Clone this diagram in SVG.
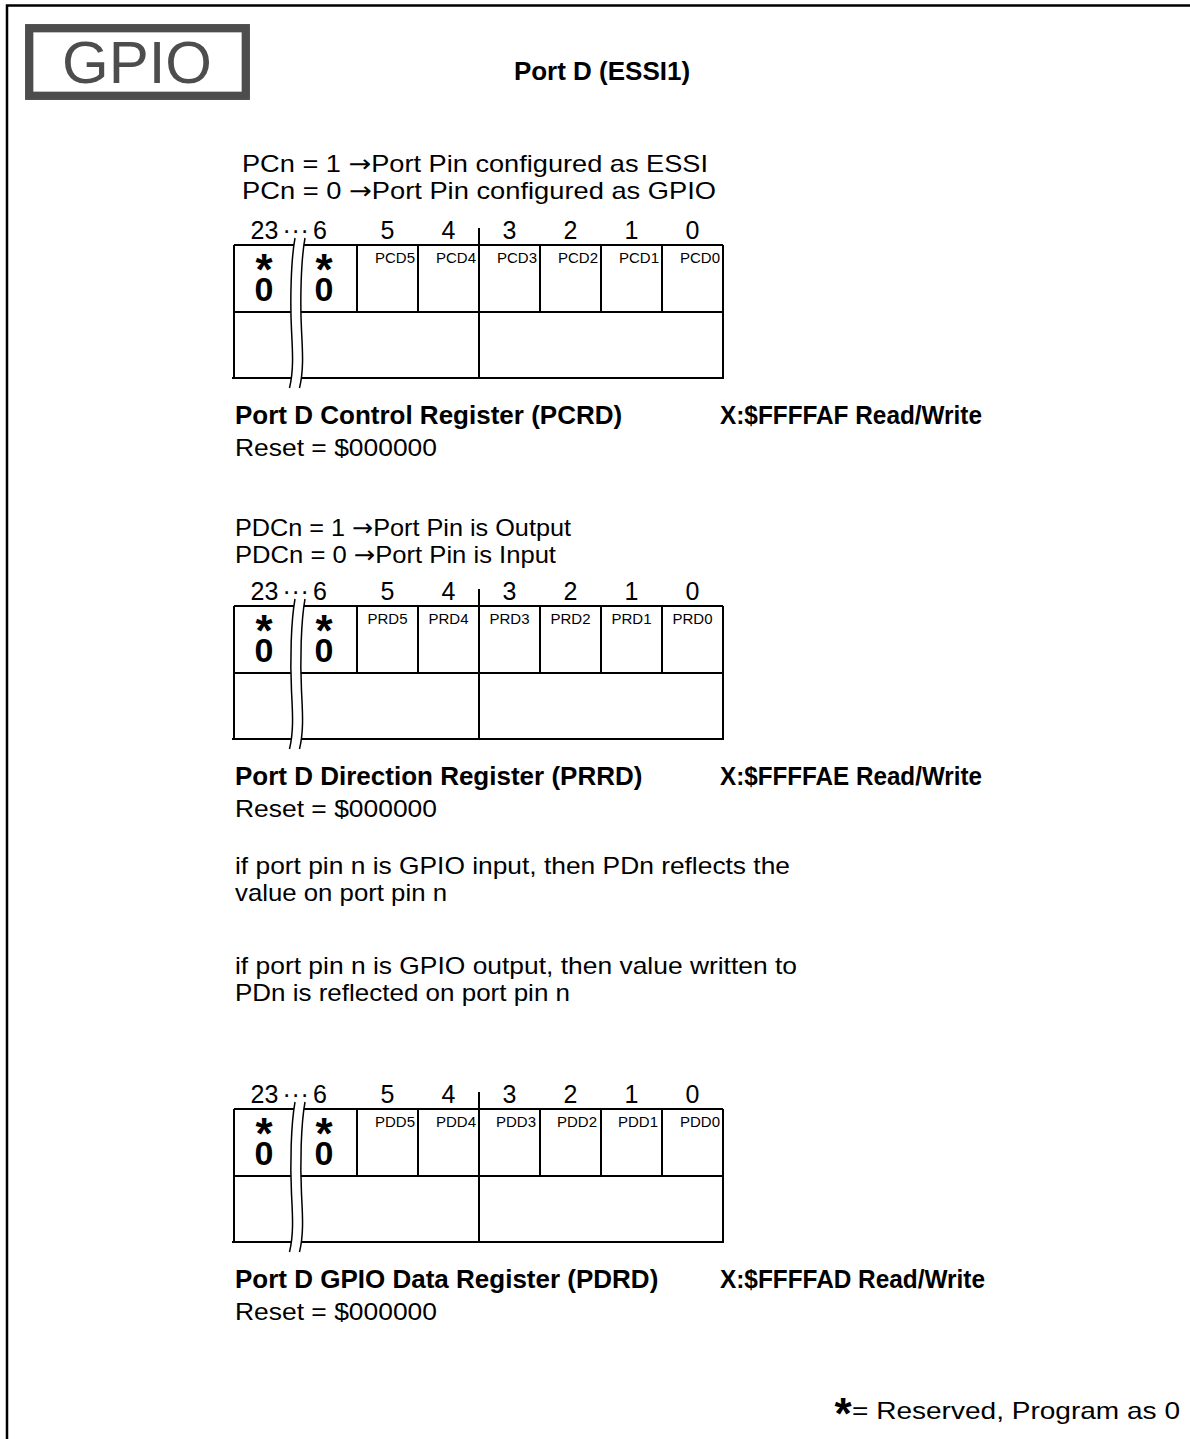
<svg xmlns="http://www.w3.org/2000/svg" width="1190" height="1439" viewBox="0 0 1190 1439">
<style>
.t{font-family:"Liberation Sans",Arial,Helvetica,sans-serif;font-size:24px;fill:#000}
.b{font-weight:bold;font-size:26px}
.ar{font-family:"DejaVu Sans","Liberation Sans",sans-serif}
.dg{font-family:"Liberation Sans",Arial,Helvetica,sans-serif;font-size:25px;fill:#000;text-anchor:middle}
.lbl{font-family:"Liberation Sans",Arial,Helvetica,sans-serif;font-size:15px;fill:#000}
.re{text-anchor:end}
.mid{text-anchor:middle}
.zero{font-family:"Liberation Sans",Arial,Helvetica,sans-serif;font-size:34px;font-weight:bold;fill:#000;text-anchor:middle}
.star{font-family:"Liberation Sans",Arial,Helvetica,sans-serif;font-size:44px;font-weight:bold;fill:#000;text-anchor:middle}
.ln{fill:none;stroke:#000;stroke-width:2}
.brk{fill:none;stroke:#000;stroke-width:1.5}
</style>
<defs>
<g id="regbase">
<path class="ln" d="M234,245H723M234,312H723M232,378H724M234,245V378M723,245V378M357,245V312M418,245V312M540,245V312M601,245V312M662,245V312M479,228V378"/>
<path d="M295,238C291,260 290,300 291.5,330C292.5,350 294,370 289.5,388L299.5,388C304,370 302.5,350 301.5,330C300,300 301,260 305,238Z" fill="#fff"/>
<path class="brk" d="M295,238C291,260 290,300 291.5,330C292.5,350 294,370 289.5,388M305,238C301,260 300,300 301.5,330C302.5,350 304,370 299.5,388"/>
<text class="dg" x="264.5" y="239">23</text>
<text class="dg" x="282.5 291.5 300.5" y="239" style="text-anchor:start">···</text>
<text class="dg" x="320" y="239">6</text>
<text class="dg" x="387.5" y="239">5</text>
<text class="dg" x="448.5" y="239">4</text>
<text class="dg" x="509.5" y="239">3</text>
<text class="dg" x="570.5" y="239">2</text>
<text class="dg" x="631.5" y="239">1</text>
<text class="dg" x="692.5" y="239">0</text>
<text class="star" x="264" y="285">*</text>
<text class="star" x="324" y="285">*</text>
<text class="zero" x="264" y="301">0</text>
<text class="zero" x="324" y="301">0</text>
</g>
</defs>

<g id="frame">
<path d="M7,1439V5.5H1190" fill="none" stroke="#000" stroke-width="2.5"/>
</g>

<g id="gpio-badge">
<rect x="29.2" y="28.2" width="216.6" height="67.6" fill="none" stroke="#4d4d4d" stroke-width="8.3"/>
<text x="62" y="83" style="font-family:'Liberation Sans',Arial,sans-serif;font-size:60px;fill:#4d4d4d">GPIO</text>
</g>

<g id="title">
<text class="t b mid" x="602" y="80">Port D (ESSI1)</text>
</g>

<g id="pcrd">
<text class="t" x="242" y="172" textLength="466" lengthAdjust="spacingAndGlyphs">PCn = 1 <tspan class="ar">→</tspan>Port Pin configured as ESSI</text>
<text class="t" x="242" y="199" textLength="474" lengthAdjust="spacingAndGlyphs">PCn = 0 <tspan class="ar">→</tspan>Port Pin configured as GPIO</text>
<use href="#regbase"/>
<text class="lbl re" x="415" y="263">PCD5</text>
<text class="lbl re" x="476" y="263">PCD4</text>
<text class="lbl re" x="537" y="263">PCD3</text>
<text class="lbl re" x="598" y="263">PCD2</text>
<text class="lbl re" x="659" y="263">PCD1</text>
<text class="lbl re" x="720" y="263">PCD0</text>
<text class="t b" x="235" y="424">Port D Control Register (PCRD)</text>
<text class="t b" x="720" y="424" textLength="262" lengthAdjust="spacingAndGlyphs">X:$FFFFAF Read/Write</text>
<text class="t" x="235" y="456" textLength="202" lengthAdjust="spacingAndGlyphs">Reset = $000000</text>
</g>

<g id="prrd">
<text class="t" x="235" y="536" textLength="336" lengthAdjust="spacingAndGlyphs">PDCn = 1 <tspan class="ar">→</tspan>Port Pin is Output</text>
<text class="t" x="235" y="563" textLength="321" lengthAdjust="spacingAndGlyphs">PDCn = 0 <tspan class="ar">→</tspan>Port Pin is Input</text>
<use href="#regbase" transform="translate(0,361)"/>
<text class="lbl mid" x="387.5" y="624">PRD5</text>
<text class="lbl mid" x="448.5" y="624">PRD4</text>
<text class="lbl mid" x="509.5" y="624">PRD3</text>
<text class="lbl mid" x="570.5" y="624">PRD2</text>
<text class="lbl mid" x="631.5" y="624">PRD1</text>
<text class="lbl mid" x="692.5" y="624">PRD0</text>
<text class="t b" x="235" y="785">Port D Direction Register (PRRD)</text>
<text class="t b" x="720" y="785" textLength="262" lengthAdjust="spacingAndGlyphs">X:$FFFFAE Read/Write</text>
<text class="t" x="235" y="817" textLength="202" lengthAdjust="spacingAndGlyphs">Reset = $000000</text>
</g>

<g id="pdrd-notes">
<text class="t" x="235" y="874" textLength="555" lengthAdjust="spacingAndGlyphs">if port pin n is GPIO input, then PDn reflects the</text>
<text class="t" x="235" y="901" textLength="212" lengthAdjust="spacingAndGlyphs">value on port pin n</text>
<text class="t" x="235" y="974" textLength="562" lengthAdjust="spacingAndGlyphs">if port pin n is GPIO output, then value written to</text>
<text class="t" x="235" y="1001" textLength="335" lengthAdjust="spacingAndGlyphs">PDn is reflected on port pin n</text>
</g>

<g id="pdrd">
<use href="#regbase" transform="translate(0,864)"/>
<text class="lbl re" x="415" y="1127">PDD5</text>
<text class="lbl re" x="476" y="1127">PDD4</text>
<text class="lbl re" x="536" y="1127">PDD3</text>
<text class="lbl re" x="597" y="1127">PDD2</text>
<text class="lbl re" x="658" y="1127">PDD1</text>
<text class="lbl re" x="720" y="1127">PDD0</text>
<text class="t b" x="235" y="1288">Port D GPIO Data Register (PDRD)</text>
<text class="t b" x="720" y="1288" textLength="265" lengthAdjust="spacingAndGlyphs">X:$FFFFAD Read/Write</text>
<text class="t" x="235" y="1320" textLength="202" lengthAdjust="spacingAndGlyphs">Reset = $000000</text>
</g>

<g id="footnote">
<text class="star" x="843" y="1429">*</text>
<text class="t" x="852" y="1419" textLength="328" lengthAdjust="spacingAndGlyphs">= Reserved, Program as 0</text>
</g>
</svg>
